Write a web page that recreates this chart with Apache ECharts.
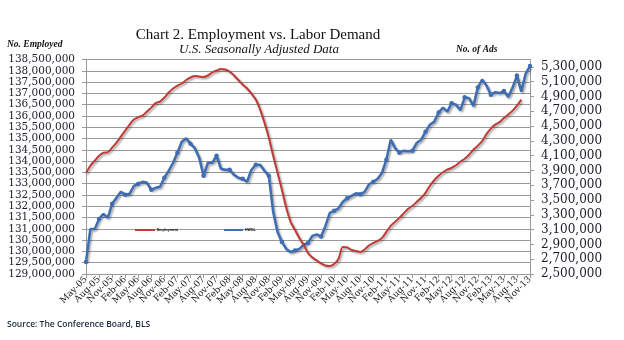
<!DOCTYPE html>
<html>
<head>
<meta charset="utf-8">
<script src="https://cdn.jsdelivr.net/npm/echarts@6/dist/echarts.min.js"></script>
<style>
  html, body { margin: 0; padding: 0; background: #fff; }
  #chart { width: 624px; height: 340px; }
</style>
</head>
<body>
<div id="chart"></div>
<script>
// Monthly categories, May 2005 – Nov 2013
const months = [
  'May-05','Jun-05','Jul-05','Aug-05','Sep-05','Oct-05','Nov-05','Dec-05',
  'Jan-06','Feb-06','Mar-06','Apr-06','May-06','Jun-06','Jul-06','Aug-06','Sep-06','Oct-06','Nov-06','Dec-06',
  'Jan-07','Feb-07','Mar-07','Apr-07','May-07','Jun-07','Jul-07','Aug-07','Sep-07','Oct-07','Nov-07','Dec-07',
  'Jan-08','Feb-08','Mar-08','Apr-08','May-08','Jun-08','Jul-08','Aug-08','Sep-08','Oct-08','Nov-08','Dec-08',
  'Jan-09','Feb-09','Mar-09','Apr-09','May-09','Jun-09','Jul-09','Aug-09','Sep-09','Oct-09','Nov-09','Dec-09',
  'Jan-10','Feb-10','Mar-10','Apr-10','May-10','Jun-10','Jul-10','Aug-10','Sep-10','Oct-10','Nov-10','Dec-10',
  'Jan-11','Feb-11','Mar-11','Apr-11','May-11','Jun-11','Jul-11','Aug-11','Sep-11','Oct-11','Nov-11','Dec-11',
  'Jan-12','Feb-12','Mar-12','Apr-12','May-12','Jun-12','Jul-12','Aug-12','Sep-12','Oct-12','Nov-12','Dec-12',
  'Jan-13','Feb-13','Mar-13','Apr-13','May-13','Jun-13','Jul-13','Aug-13','Sep-13','Oct-13','Nov-13'
];

// Nonfarm employment (persons), left axis
const employment = [
  133471000,133795000,134017000,134239000,134372000,134395000,134594000,134816000,
  135083000,135349000,135616000,135838000,135949000,136015000,136193000,136370000,136570000,136637000,136814000,137036000,
  137214000,137347000,137436000,137591000,137702000,137769000,137747000,137725000,137791000,137924000,138013000,138080000,
  138058000,137969000,137791000,137591000,137392000,137214000,136992000,136726000,136282000,135704000,135038000,134239000,
  133484000,132730000,131930000,131309000,130954000,130598000,130288000,129932000,129733000,129599000,129466000,129377000,
  129355000,129444000,129666000,130199000,130177000,130066000,130021000,129977000,130088000,130265000,130376000,130465000,
  130598000,130865000,131131000,131309000,131486000,131686000,131886000,132019000,132197000,132374000,132596000,132907000,
  133151000,133351000,133507000,133618000,133706000,133817000,133973000,134106000,134284000,134506000,134683000,134883000,
  135194000,135438000,135616000,135727000,135904000,136060000,136237000,136459000,136726000,null,null
];

// Online help-wanted ads, right axis
const ads = [
  2663000,3110000,3110000,3245000,3313000,3259000,3449000,3530000,
  3611000,3570000,3584000,3692000,3720000,3747000,3733000,3638000,3665000,3679000,3801000,3896000,
  4004000,4140000,4289000,4336000,4262000,4201000,4072000,3828000,4004000,4004000,4099000,3923000,
  3909000,3909000,3841000,3801000,3787000,3747000,3909000,3977000,3977000,3896000,3828000,3340000,
  3069000,2934000,2839000,2798000,2818000,2839000,2893000,2920000,3015000,3035000,3008000,3150000,
  3327000,3354000,3388000,3476000,3523000,3557000,3591000,3577000,3611000,3713000,3747000,3787000,
  3869000,4045000,4316000,4201000,4140000,4167000,4160000,4167000,4275000,4316000,4424000,4519000,
  4560000,4682000,4749000,4695000,4810000,4790000,4715000,4889000,4878000,4770000,5020000,5129000,
  5047000,4925000,4959000,4946000,4973000,4892000,5020000,5183000,4966000,5210000,5312000
];

const empAxis = { min: 129000000, max: 138500000, step: 500000 };
const adsAxis = { min: 2500000, max: 5400000, step: 200000 };

const RED = '#BE3B36';
const BLUE = '#3E6DB3';
const GRID_GRAY = '#9a9a9a';
const serif = '"DejaVu Serif", "Liberation Serif", serif';
const lineShadow = { shadowColor: 'rgba(0,0,0,0.35)', shadowBlur: 2, shadowOffsetX: 1.5, shadowOffsetY: 1.5 };

const fmt = v => echarts.format.addCommas(v);

const chart = echarts.init(document.getElementById('chart'), null, { renderer: 'canvas' });

chart.setOption({
  animation: false,
  backgroundColor: '#ffffff',
  title: [
    { text: 'Chart 2. Employment vs. Labor Demand', left: 253, top: 23, textAlign: 'center',
      textStyle: { fontFamily: '"Liberation Serif", serif', fontSize: 15, fontWeight: 'normal', color: '#111' } },
    { text: 'U.S. Seasonally Adjusted Data', left: 254, top: 38, textAlign: 'center',
      textStyle: { fontFamily: '"Liberation Serif", serif', fontSize: 13, fontStyle: 'italic', fontWeight: 'normal', color: '#111' } },
    { text: 'No. Employed', left: 2, top: 35,
      textStyle: { fontFamily: '"Liberation Serif", serif', fontSize: 9.5, fontStyle: 'italic', fontWeight: 'bold', color: '#111' } },
    { text: 'No. of Ads', left: 451, top: 40,
      textStyle: { fontFamily: '"Liberation Serif", serif', fontSize: 9.5, fontStyle: 'italic', fontWeight: 'bold', color: '#111' } },
    { text: 'Source: The Conference Board, BLS', left: 2, top: 315,
      textStyle: { fontFamily: '"Open Sans", "Noto Sans", sans-serif', fontSize: 8.5, fontWeight: 600, color: '#1c2a3e' } }
  ],
  legend: [
    { data: ['Employment'], left: 130, top: 223, icon: 'rect', itemWidth: 20, itemHeight: 2, itemGap: 2,
      textStyle: { fontSize: 3.5, fontWeight: 'bold', color: '#000', padding: [0, 0, 0, -3] } },
    { data: ['HWOL'], left: 219, top: 223, icon: 'rect', itemWidth: 19, itemHeight: 2, itemGap: 2,
      textStyle: { fontSize: 3.5, fontWeight: 'bold', color: '#000', padding: [0, 0, 0, -3] } }
  ],
  grid: { left: 86, right: 94, top: 59.5, bottom: 66 },
  xAxis: {
    type: 'category',
    data: months,
    boundaryGap: false,
    axisLine: { lineStyle: { color: GRID_GRAY, width: 1 } },
    axisTick: { interval: 2, length: 4, lineStyle: { color: GRID_GRAY } },
    axisLabel: { interval: 2, rotate: 45, margin: 4, fontFamily: serif, fontSize: 9, color: '#222',
      hideOverlap: false, showMinLabel: true, showMaxLabel: true },
    splitLine: { show: false }
  },
  yAxis: [
    {
      type: 'value', position: 'left',
      min: empAxis.min, max: empAxis.max, interval: empAxis.step,
      axisLine: { show: true, lineStyle: { color: GRID_GRAY } },
      axisTick: { show: true, length: 4, lineStyle: { color: GRID_GRAY } },
      axisLabel: { margin: 11, fontFamily: serif, fontSize: 10.5, color: '#1d1d2a', formatter: fmt },
      splitLine: { show: true, lineStyle: { color: GRID_GRAY, width: 1 } }
    },
    {
      type: 'value', position: 'right',
      min: adsAxis.min, max: adsAxis.max, interval: adsAxis.step,
      axisLine: { show: true, lineStyle: { color: GRID_GRAY } },
      axisTick: { show: true, length: 4, lineStyle: { color: GRID_GRAY } },
      axisLabel: { margin: 11, fontFamily: serif, fontSize: 12, color: '#1d1d2a', formatter: fmt, showMaxLabel: false },
      splitLine: { show: false }
    }
  ],
  series: [
    {
      name: 'Employment', type: 'line', yAxisIndex: 0, data: employment,
      showSymbol: false, smooth: 0.3, connectNulls: false,
      itemStyle: { color: RED },
      lineStyle: Object.assign({ color: RED, width: 2 }, lineShadow),
      z: 3
    },
    {
      name: 'HWOL', type: 'line', yAxisIndex: 1, data: ads,
      symbol: 'circle', symbolSize: 4.5, showSymbol: true,
      itemStyle: { color: BLUE },
      lineStyle: Object.assign({ color: BLUE, width: 2.5 }, lineShadow),
      z: 2
    }
  ]
});
</script>
</body>
</html>
